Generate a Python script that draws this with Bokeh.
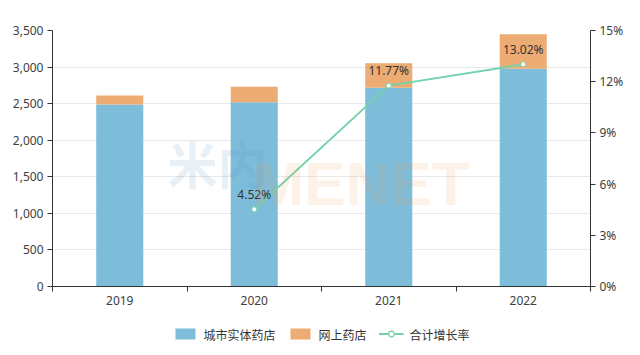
from bokeh.plotting import figure
from bokeh.layouts import column
from bokeh.models import (Range1d, LinearAxis, FixedTicker, Legend, LegendItem,
                          ColumnDataSource, NumeralTickFormatter, Label)
from bokeh.embed import file_html
from bokeh.resources import INLINE
from bokeh.core.properties import value

# ---- data ----
years = ["2019", "2020", "2021", "2022"]
physical = [2488, 2520, 2717, 2976]     # 城市实体药店
online = [123, 210, 336, 474]           # 网上药店
growth_years = ["2020", "2021", "2022"]
growth = [4.52, 11.77, 13.02]           # 合计增长率 (%)
left_ticks = [0, 500, 1000, 1500, 2000, 2500, 3000, 3500]
right_ticks = [0, 3, 6, 9, 12, 15]
series_names = ["城市实体药店", "网上药店", "合计增长率"]

BLUE = "#7ebdda"
ORANGE = "#edac73"
GREEN = "#72d2aa"
FONT = "Noto Sans"
CJK = "Noto Sans CJK SC"

xc = [i + 0.5 for i in range(len(years))]
totals = [a + b for a, b in zip(physical, online)]
src = ColumnDataSource(dict(x=xc, phys=physical, total=totals))
gx = [years.index(y) + 0.5 for y in growth_years]
gsrc = ColumnDataSource(dict(x=gx, g=growth, lab=[f"{v:.2f}%" for v in growth]))

p = figure(width=640, height=312, x_range=Range1d(0, len(years)),
           y_range=Range1d(left_ticks[0], left_ticks[-1]),
           output_backend="svg", toolbar_location=None,
           min_border_left=52, min_border_right=50, min_border_top=30,
           min_border_bottom=26)
p.outline_line_color = None
p.background_fill_color = "white"
p.border_fill_color = "white"
p.extra_y_ranges = {"pct": Range1d(right_ticks[0], right_ticks[-1])}

# watermark
p.add_layout(Label(x=0.855, y=1700, text="米内", text_font=CJK, text_font_style="bold",
                   text_font_size="50px", text_color="#4a8cc0", text_alpha=0.13,
                   text_baseline="middle"))
p.add_layout(Label(x=1.487, y=1408, text="MENET", text_font="Liberation Sans",
                   text_font_style="bold", text_font_size="62px", text_color="#f39a4c",
                   text_alpha=0.13, text_baseline="alphabetic"))

r_blue = p.vbar(x="x", bottom=0, top="phys", width=0.35, source=src,
                fill_color=BLUE, line_color=None)
r_orange = p.vbar(x="x", bottom="phys", top="total", width=0.35, source=src,
                  fill_color=ORANGE, line_color=None)

p.line(x="x", y="g", source=gsrc, y_range_name="pct", line_color=GREEN, line_width=2)
p.scatter(x="x", y="g", source=gsrc, y_range_name="pct", size=5,
          fill_color="white", line_color=GREEN, line_width=1)
p.text(x="x", y="g", text="lab", source=gsrc, y_range_name="pct",
       text_align="center", text_baseline="middle", y_offset=-15,
       text_font=value(FONT), text_font_size="12px", text_color="#333333")

# axes
p.yaxis.ticker = FixedTicker(ticks=left_ticks)
p.yaxis.formatter = NumeralTickFormatter(format="0,0")
ra = LinearAxis(y_range_name="pct", ticker=FixedTicker(ticks=right_ticks),
                major_label_overrides={t: f"{t}%" for t in right_ticks})
p.add_layout(ra, "right")
p.xaxis.ticker = FixedTicker(ticks=xc, minor_ticks=list(range(len(years) + 1)))
p.xaxis.major_label_overrides = {x: y for x, y in zip(xc, years)}

for ax in [p.yaxis[0], ra, p.xaxis[0]]:
    ax.axis_line_color = "#333333"
    ax.major_tick_line_color = "#333333"
    ax.major_tick_out = 5
    ax.major_tick_in = 0
    ax.minor_tick_line_color = None
    ax.major_label_text_font = FONT
    ax.major_label_text_font_size = "12px"
    ax.major_label_text_color = "#404040"
    ax.major_label_standoff = 4
p.xaxis.major_tick_out = 0
p.xaxis.minor_tick_line_color = "#333333"
p.xaxis.minor_tick_out = 5
p.xaxis.minor_tick_in = 0

p.xgrid.visible = False
p.ygrid.grid_line_color = "#e8e8e8"

# ---- legend strip (separate small figure, hidden renderers) ----
lg = figure(width=640, height=43, x_range=Range1d(0, len(years)),
            y_range=Range1d(left_ticks[0], left_ticks[-1]),
            output_backend="svg", toolbar_location=None,
            x_axis_type=None, y_axis_type=None,
            min_border=0)
lg.outline_line_color = None
lg.xgrid.visible = False
lg.ygrid.visible = False
lg.extra_y_ranges = {"pct": Range1d(right_ticks[0], right_ticks[-1])}
l_blue = lg.vbar(x="x", bottom=0, top="phys", width=0.35, source=src,
                 fill_color=BLUE, line_color=None, visible=False)
l_orange = lg.vbar(x="x", bottom="phys", top="total", width=0.35, source=src,
                   fill_color=ORANGE, line_color=None, visible=False)
l_line = lg.line(x="x", y="g", source=gsrc, y_range_name="pct",
                 line_color=GREEN, line_width=2, visible=False)
l_pt = lg.scatter(x="x", y="g", source=gsrc, y_range_name="pct", size=13,
                  fill_color="white", line_color=GREEN, line_width=1.2, visible=False)

legend = Legend(items=[LegendItem(label=series_names[0], renderers=[l_blue]),
                       LegendItem(label=series_names[1], renderers=[l_orange]),
                       LegendItem(label=series_names[2], renderers=[l_line, l_pt])],
                orientation="horizontal", location="center",
                border_line_color=None, background_fill_alpha=0,
                label_text_font=CJK, label_text_font_size="12px",
                label_text_color="#333333", glyph_width=25, glyph_height=14,
                spacing=12, label_standoff=6, padding=4, margin=0)
lg.add_layout(legend, "center")

open("out.html", "w").write(file_html(column(p, lg, spacing=0), INLINE))
